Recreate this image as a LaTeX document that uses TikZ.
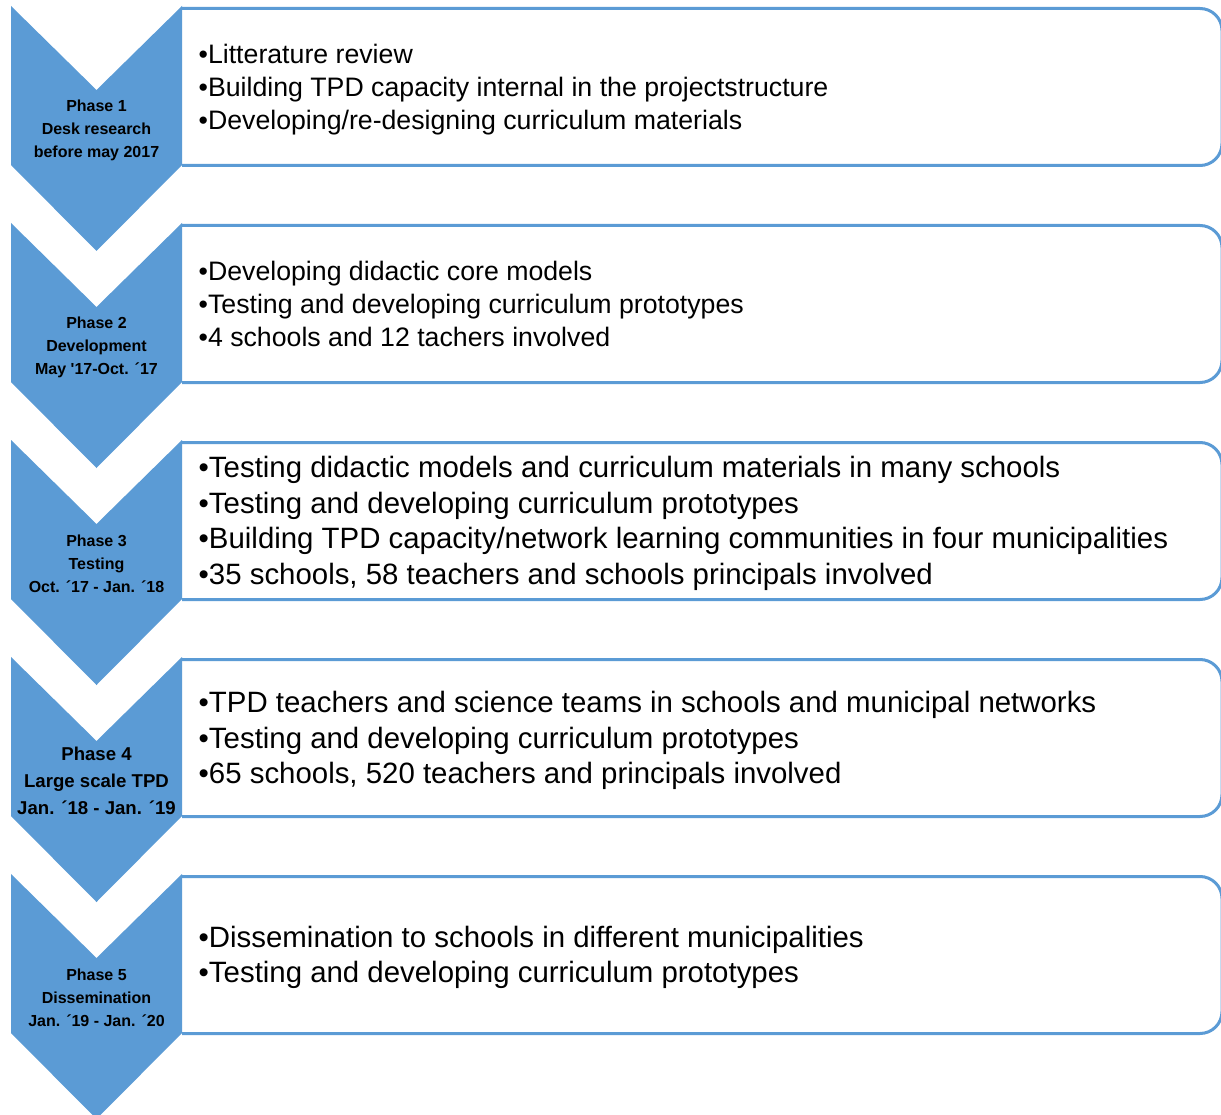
\documentclass[tikz,border=0pt]{standalone}
\usepackage{fontspec}
\setmainfont{Liberation Sans}
\usetikzlibrary{positioning}
\definecolor{phaseblue}{HTML}{5B9BD5}
\definecolor{ink}{HTML}{000000}

\begin{document}
\begin{tikzpicture}[x=1pt,y=-1pt,
    phaselabel/.style={align=center,text=ink,inner sep=0pt},
    phaseitems/.style={align=left,anchor=west,text=ink,inner sep=0pt},
    phasebox/.style={draw=phaseblue,line width=3pt,fill=white,rounded corners=22pt}]
  \useasboundingbox (0,0) rectangle (1221,1115);
  \clip (0,0) rectangle (1221,1115);
  \def\chevl{11}
  \def\chevm{96.5}
  \def\chevr{182}
  \def\boxr{1222}

  % One phase: box behind, chevron on top, then the texts.
  \newcommand{\phaserow}[7]{%
    \draw[phasebox] (\chevr,#2+2.5) -- (\boxr,#2+2.5) -- (\boxr,#2+159.5) -- (\chevr,#2+159.5);
    \fill[phaseblue] (\chevl,#2) -- (\chevm,#2+84) -- (\chevr,#2) -- (\chevr,#2+159)
      -- (\chevm,#2+245) -- (\chevl,#2+159) -- cycle;
    \node[phaselabel,font=#4] (lab#1) at (\chevm,#2+124) {#3};
    \node[phaseitems,font=#5] (items#1) at (198.5,#2+#6) {#7};
  }

  \phaserow{1}{6}{Phase 1\\Desk research\\before may 2017}
    {\bfseries\fontsize{16}{23}\selectfont}{\fontsize{26.7}{33}\selectfont}{83.5}
    {•Litterature review\\•Building TPD capacity internal in the projectstructure\\%
     •Developing/re-designing curriculum materials}
  \phaserow{2}{223}{Phase 2\\Development\\May \textquotesingle17-Oct. ´17}
    {\bfseries\fontsize{16}{23}\selectfont}{\fontsize{26.7}{33}\selectfont}{80.5}
    {•Developing didactic core models\\•Testing and developing curriculum prototypes\\%
     •4 schools and 12 tachers involved}
  \phaserow{3}{440}{Phase 3\\Testing\\Oct. ´17 - Jan. ´18}
    {\bfseries\fontsize{16}{23}\selectfont}{\fontsize{29.4}{35.5}\selectfont}{83.5}
    {•Testing didactic models and curriculum materials in many schools\\%
     •Testing and developing curriculum prototypes\\%
     •Building TPD capacity/network learning communities in four municipalities\\%
     •35 schools, 58 teachers and schools principals involved}
  \phaserow{4}{657}{Phase 4\\Large scale TPD\\Jan. ´18 - Jan. ´19}
    {\bfseries\fontsize{18.6}{27}\selectfont}{\fontsize{29.4}{35.5}\selectfont}{83.5}
    {•TPD teachers and science teams in schools and municipal networks\\%
     •Testing and developing curriculum prototypes\\%
     •65 schools, 520 teachers and principals involved}
  \phaserow{5}{874}{Phase 5\\Dissemination\\Jan. ´19 - Jan. ´20}
    {\bfseries\fontsize{16}{23}\selectfont}{\fontsize{29.4}{35.5}\selectfont}{83.5}
    {•Dissemination to schools in different municipalities\\%
     •Testing and developing curriculum prototypes}
\end{tikzpicture}
\end{document}
